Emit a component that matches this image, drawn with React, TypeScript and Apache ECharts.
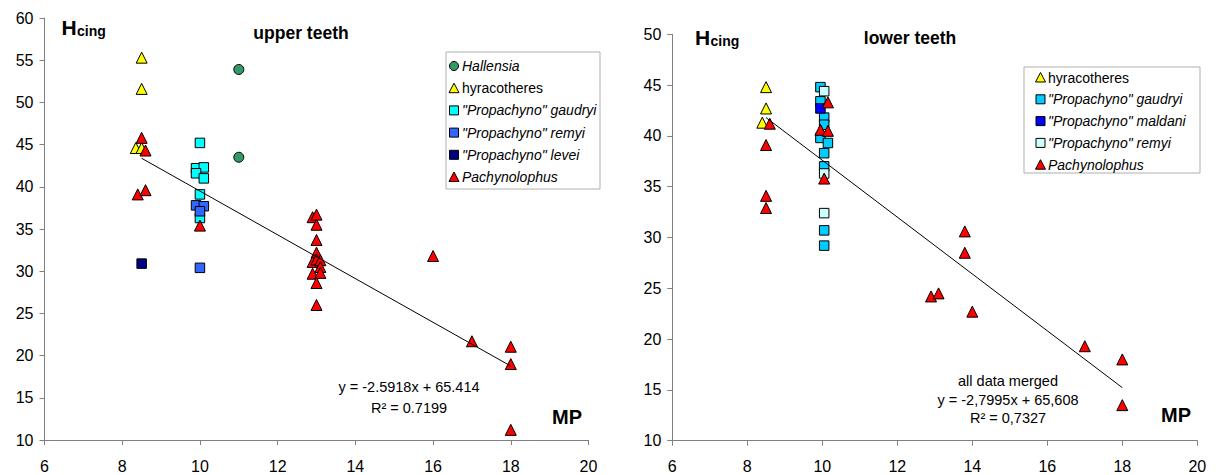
import React, { useEffect, useRef } from "react";
import * as echarts from "echarts";

// ---------- upper teeth (left) ----------
const upperHallensia: number[][] = [[11, 53.9], [11, 43.5]];
const upperHyracotheres: number[][] = [[8.5, 55.3], [8.5, 51.6], [8.35, 44.6], [8.5, 44.6]];
const upperGaudryi: number[][] = [[10, 45.2], [9.9, 42.2], [10.1, 42.3], [9.9, 41.6], [10.1, 41.0], [10, 39.1], [10, 36.3]];
const upperRemyi: number[][] = [[9.9, 37.8], [10.1, 37.7], [10, 37.1], [10, 30.4]];
const upperLevei: number[][] = [[8.5, 30.9]];
const upperPachynolophus: number[][] = [
  [8.5, 45.8], [8.6, 44.3], [8.4, 39.1], [8.6, 39.6], [10, 35.4],
  [12.9, 36.4], [13, 36.7], [13, 35.5], [13, 33.7], [13, 32.2], [12.9, 31.1], [13, 31.4],
  [13.1, 31.3], [13.1, 30.5], [12.9, 29.7], [13.1, 29.8], [13, 28.6], [13, 26.0],
  [16, 31.8], [17, 21.7], [18, 21.05], [18, 19.0], [18, 11.2],
];
const upperTrend: number[][] = [[8.5, 43.38], [18, 18.76]];

// ---------- lower teeth (right) ----------
const lowerHyracotheres: number[][] = [[8.5, 44.8], [8.5, 42.7], [8.4, 41.3]];
const lowerGaudryi: number[][] = [
  [9.95, 44.8], [9.95, 43.4], [10.05, 41.8], [10.05, 41.1], [9.95, 39.8], [10.15, 39.3],
  [10.05, 38.3], [10.05, 37.0], [10.05, 30.7], [10.05, 29.2],
];
const lowerMaldani: number[][] = [[9.95, 42.7]];
const lowerRemyi: number[][] = [[10.05, 44.4], [10.05, 36.3], [10.05, 32.4]];
const lowerPachynolophus: number[][] = [
  [8.6, 41.2], [8.5, 39.1], [8.5, 34.1], [8.5, 32.9], [10.15, 43.3], [9.95, 40.6],
  [10.15, 40.5], [10.05, 35.8], [13.8, 30.6], [13.8, 28.5], [12.9, 24.2], [13.1, 24.5],
  [14, 22.7], [17, 19.3], [18, 18.0], [18, 13.5],
];
const lowerTrend: number[][] = [[8.5, 41.8], [18, 15.22]];

const upperLegend = ["Hallensia", "hyracotheres", '"Propachyno" gaudryi', '"Propachyno" remyi', '"Propachyno" levei', "Pachynolophus"];
const lowerLegend = ["hyracotheres", '"Propachyno" gaudryi', '"Propachyno" maldani', '"Propachyno" remyi', "Pachynolophus"];

const FONT = '"Liberation Sans", Arial, Helvetica, sans-serif';
const C = {
  green: "#339966",
  yellow: "#FFFF00",
  cyan: "#00FFFF",
  blueUp: "#3366FF",
  navy: "#000080",
  red: "#FF0000",
  sky: "#00CCFF",
  blue: "#0000FF",
  pale: "#CCFFFF",
};

const upperStyles = [
  { shape: "circle", color: C.green, italic: true },
  { shape: "triangle", color: C.yellow, italic: false },
  { shape: "rect", color: C.cyan, italic: true },
  { shape: "rect", color: C.blueUp, italic: true },
  { shape: "rect", color: C.navy, italic: true },
  { shape: "triangle", color: C.red, italic: true },
];
const lowerStyles = [
  { shape: "triangle", color: C.yellow, italic: false },
  { shape: "rect", color: C.sky, italic: true },
  { shape: "rect", color: C.blue, italic: true },
  { shape: "rect", color: C.pale, italic: true },
  { shape: "triangle", color: C.red, italic: true },
];

function marker(shape: string, color: string, cx: number, cy: number): any {
  const style = { fill: color, stroke: "#000", lineWidth: 1 };
  if (shape === "circle") return { type: "circle", shape: { cx, cy, r: 4.5 }, style };
  if (shape === "rect") return { type: "rect", shape: { x: cx - 4.5, y: cy - 4.5, width: 9, height: 9 }, style };
  return { type: "polygon", shape: { points: [[cx - 5, cy + 4.5], [cx + 5, cy + 4.5], [cx, cy - 5]] }, style };
}

function legendGraphic(names: string[], styles: any[], box: any, mx: number, tx: number, y0: number, step: number): any[] {
  const els: any[] = [
    { type: "rect", shape: box, style: { fill: "#fff", stroke: "#B0B0B0", lineWidth: 1 }, z: 10 },
  ];
  names.forEach((n, i) => {
    const cy = y0 + i * step;
    const st = styles[i];
    els.push({ ...marker(st.shape, st.color, mx, cy), z: 11 });
    els.push({
      type: "text",
      x: tx,
      y: cy,
      z: 11,
      style: {
        text: n,
        fontFamily: FONT,
        fontSize: 14,
        fontStyle: st.italic ? "italic" : "normal",
        fill: "#000",
        verticalAlign: "middle",
        align: "left",
      },
    });
  });
  return els;
}

function txt(text: string, x: number, y: number, size: number, bold = false, align = "center"): any {
  return {
    type: "text",
    x,
    y,
    z: 12,
    style: { text, fontFamily: FONT, fontSize: size, fontWeight: bold ? "bold" : "normal", fill: "#000", align, verticalAlign: "middle" },
  };
}

function hcing(x: number, y: number): any {
  return {
    type: "group",
    z: 12,
    children: [
      {
        type: "text",
        x,
        y,
        style: { text: "H", fontFamily: FONT, fontSize: 21, fontWeight: "bold", fill: "#000", verticalAlign: "bottom", align: "left" },
      },
      {
        type: "text",
        x: x + 15.5,
        y: y - 0.5,
        style: { text: "cing", fontFamily: FONT, fontSize: 14, fontWeight: "bold", fill: "#000", verticalAlign: "bottom", align: "left" },
      },
    ],
  };
}

const axisCommon = {
  axisLine: { show: true, onZero: false, lineStyle: { color: "#808080", width: 1 } },
  axisTick: { show: true, inside: false, length: 5, lineStyle: { color: "#808080" } },
  splitLine: { show: false },
};

function xAx(gridIndex: number): any {
  return {
    type: "value",
    gridIndex,
    min: 6,
    max: 20,
    interval: 2,
    ...axisCommon,
    axisLabel: { color: "#000", fontFamily: FONT, fontSize: 16, margin: 18 },
  };
}
function yAx(gridIndex: number, max: number): any {
  return {
    type: "value",
    gridIndex,
    min: 10,
    max,
    interval: 5,
    ...axisCommon,
    axisLabel: { color: "#000", fontFamily: FONT, fontSize: 16, margin: 11 },
  };
}

function sc(name: string, data: number[][], symbol: string, size: number, color: string, gi: number): any {
  return {
    type: "scatter",
    name,
    data,
    xAxisIndex: gi,
    yAxisIndex: gi,
    symbol,
    symbolSize: size,
    itemStyle: { color, borderColor: "#000", borderWidth: 1, opacity: 1 },
    emphasis: { disabled: true },
  };
}

function trend(data: number[][], gi: number): any {
  return {
    type: "line",
    data,
    xAxisIndex: gi,
    yAxisIndex: gi,
    showSymbol: false,
    symbol: "none",
    lineStyle: { color: "#000", width: 1 },
    z: 3,
  };
}

export default function App() {
  const ref = useRef<HTMLDivElement>(null);
  useEffect(() => {
    if (!ref.current) return;
    const chart = echarts.init(ref.current, undefined, { renderer: "svg" });
    const option: any = {
      animation: false,
      backgroundColor: "#fff",
      grid: [
        { left: 44.5, right: 1220 - 588.5, top: 18, bottom: 475 - 440 },
        { left: 672.3, right: 1220 - 1197.3, top: 34.3, bottom: 475 - 440.7 },
      ],
      xAxis: [xAx(0), xAx(1)],
      yAxis: [yAx(0, 60), yAx(1, 50)],
      series: [
        sc("Hallensia", upperHallensia, "circle", 10, C.green, 0),
        sc("hyracotheres", upperHyracotheres, "triangle", 11, C.yellow, 0),
        sc('"Propachyno" gaudryi', upperGaudryi, "rect", 9.5, C.cyan, 0),
        sc('"Propachyno" remyi', upperRemyi, "rect", 9.5, C.blueUp, 0),
        sc('"Propachyno" levei', upperLevei, "rect", 9.5, C.navy, 0),
        sc("Pachynolophus", upperPachynolophus, "triangle", 11, C.red, 0),
        trend(upperTrend, 0),
        sc("hyracotheres (lower)", lowerHyracotheres, "triangle", 11, C.yellow, 1),
        sc('"Propachyno" gaudryi (lower)', lowerGaudryi, "rect", 9.5, C.sky, 1),
        sc('"Propachyno" maldani', lowerMaldani, "rect", 9.5, C.blue, 1),
        sc('"Propachyno" remyi (lower)', lowerRemyi, "rect", 9.5, C.pale, 1),
        sc("Pachynolophus (lower)", lowerPachynolophus, "triangle", 11, C.red, 1),
        trend(lowerTrend, 1),
      ],
      graphic: [
        ...legendGraphic(upperLegend, upperStyles, { x: 446, y: 52, width: 154, height: 137 }, 454, 462, 66, 22.2),
        ...legendGraphic(lowerLegend, lowerStyles, { x: 1024, y: 67, width: 176, height: 106 }, 1040.5, 1048, 77.5, 21.8),
        hcing(61.5, 38),
        hcing(695, 48),
        txt("upper teeth", 301, 33, 17.5, true),
        txt("lower teeth", 910, 38, 17.5, true),
        txt("y = -2.5918x + 65.414", 409, 387, 14.5),
        txt("R² = 0.7199", 409, 408, 14.5),
        txt("MP", 552, 417, 20, true, "left"),
        txt("all data merged", 1008, 381, 14.5),
        txt("y = -2,7995x + 65,608", 1008, 400, 14.5),
        txt("R² = 0,7327", 1008, 418, 14.5),
        txt("MP", 1161, 415, 20, true, "left"),
      ],
    };
    chart.setOption(option);
    return () => chart.dispose();
  }, []);
  return (
    <div
      ref={ref}
      style={{ position: "absolute", left: 0, top: 0, width: 1220, height: 475, background: "#fff" }}
    />
  );
}
